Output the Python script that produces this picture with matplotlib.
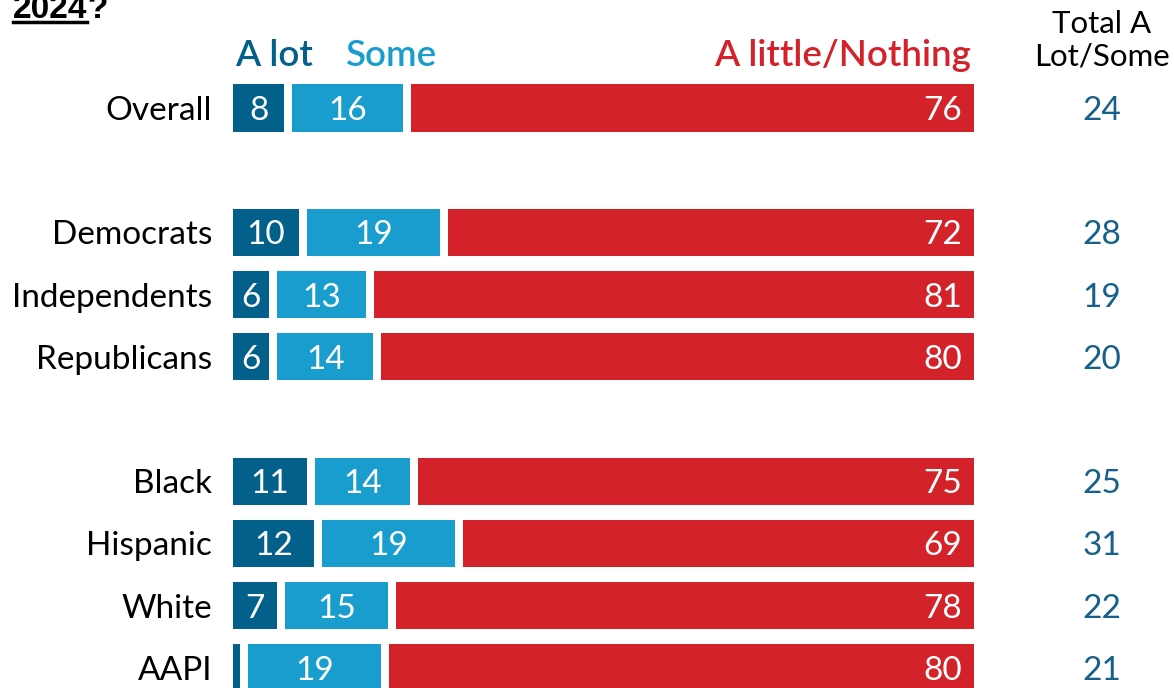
import matplotlib
matplotlib.use("Agg")
import matplotlib.pyplot as plt
from matplotlib.lines import Line2D

categories = ["Overall", "Democrats", "Independents", "Republicans",
              "Black", "Hispanic", "White", "AAPI"]
row_pos = [0, 2, 3, 4, 6, 7, 8, 9]
a_lot = [8, 10, 6, 6, 11, 12, 7, 2]
some = [16, 19, 13, 14, 14, 19, 15, 19]
little = [76, 72, 81, 80, 75, 69, 78, 80]
totals = [24, 28, 19, 20, 25, 31, 22, 21]

C_LOT = "#03608a"
C_SOME = "#199cce"
C_LITTLE = "#d3222a"
C_TOT = "#16608c"
FONT = "Lato"

W, H = 1174, 688
fig = plt.figure(figsize=(W / 100, H / 100), dpi=100)
x0, x1 = 233, 974
ax = fig.add_axes([x0 / W, 0, (x1 - x0) / W, 1])
row_px = 62.2
y_first = 108
ax.set_xlim(0, 100)
ax.set_ylim(9 + (H - (y_first + 9 * row_px)) / row_px, -y_first / row_px)
ax.axis("off")

px = 100 / (x1 - x0)
gap = 8 * px
bh = 0.76
fs = 24

for i, y in enumerate(row_pos):
    l2 = a_lot[i]
    l3 = a_lot[i] + some[i]
    w1 = a_lot[i] - gap
    w2 = some[i] - gap
    ax.barh(y, max(w1, 0.7), left=0, height=bh, color=C_LOT, edgecolor="none")
    ax.barh(y, w2, left=l2, height=bh, color=C_SOME, edgecolor="none")
    ax.barh(y, little[i], left=l3, height=bh, color=C_LITTLE, edgecolor="none")
    if a_lot[i] >= 4:
        ax.text(w1 / 2, y, str(a_lot[i]), color="white", fontsize=fs,
                family=FONT, ha="center", va="center_baseline")
    ax.text(l2 + w2 / 2, y, str(some[i]), color="white", fontsize=fs,
            family=FONT, ha="center", va="center_baseline")
    ax.text(100 - 12 * px, y, str(little[i]), color="white", fontsize=fs,
            family=FONT, ha="right", va="center_baseline")
    ax.text((212 - x0) * px, y, categories[i], color="black", fontsize=fs,
            family=FONT, ha="right", va="center_baseline")
    ax.text((1102 - x0) * px, y, str(totals[i]), color=C_TOT, fontsize=fs,
            family=FONT, ha="center", va="center_baseline", clip_on=False)

# headers
yh = (52 - y_first) / row_px
hfs = 26.5
ax.text((235 - x0) * px, yh, "A lot", color=C_LOT, fontsize=hfs, family=FONT,
        fontweight="semibold", ha="left", va="center_baseline")
ax.text((346 - x0) * px, yh, "Some", color=C_SOME, fontsize=hfs, family=FONT,
        fontweight="semibold", ha="left", va="center_baseline")
ax.text((971 - x0) * px, yh, "A little/Nothing", color=C_LITTLE, fontsize=hfs,
        family=FONT, fontweight="semibold", ha="right", va="center_baseline")
ax.text((1102 - x0) * px, (40 - y_first) / row_px, "Total A\nLot/Some",
        color="black", fontsize=22.5, family=FONT, ha="center", va="center",
        linespacing=1.2, clip_on=False)

# cut-off title fragment
t = fig.text(13 / W, 1 - 18 / H, "2024", fontsize=24, fontweight="bold",
             family="Liberation Sans", ha="left", va="baseline", color="black")
fig.canvas.draw()
bb = t.get_window_extent()
fig.text(bb.x1 / W, 1 - 18 / H, "?", fontsize=24, fontweight="bold",
         family="Liberation Sans", ha="left", va="baseline", color="black")
fig.add_artist(Line2D([bb.x0 / W, bb.x1 / W], [1 - 22 / H, 1 - 22 / H],
                      color="black", lw=2.5, transform=fig.transFigure))

fig.savefig("out.png", dpi=100)
